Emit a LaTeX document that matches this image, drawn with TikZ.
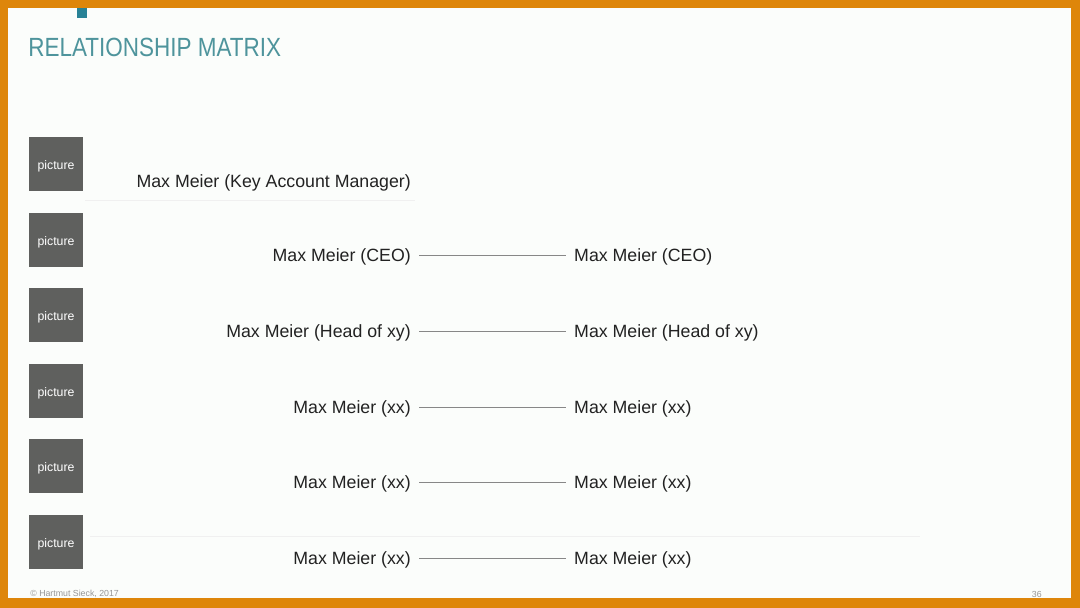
\documentclass[tikz,border=0pt]{standalone}
\usepackage{fontspec}
\setmainfont{Liberation Sans}
\usetikzlibrary{positioning}
\definecolor{frameorange}{RGB}{222,134,10}
\definecolor{paper}{RGB}{251,253,251}
\definecolor{titleteal}{RGB}{78,148,156}
\definecolor{markteal}{RGB}{40,130,150}
\definecolor{photogray}{RGB}{95,96,94}
\definecolor{namegray}{RGB}{34,34,34}
\definecolor{linegray}{RGB}{135,135,135}
\definecolor{footgray}{RGB}{150,150,150}

\begin{document}
\begin{tikzpicture}[
    x=0.02cm, y=-0.02cm,
    photo/.style={fill=photogray, minimum width=1.1cm, minimum height=1.08cm, inner sep=0pt,
                  text=white, font=\fontsize{7}{8}\selectfont, text height=6.5pt, text depth=0pt},
    person/.style={font=\fontsize{10.1}{12}\selectfont, text=namegray, inner sep=4.5pt},
    link/.style={draw=linegray, line width=0.5pt},
    faint/.style={draw=black!6, line width=0.5pt},
    foot/.style={font=\fontsize{5}{6}\selectfont, text=footgray, inner sep=0pt}
]

% Rahmen und Hintergrund
\fill[frameorange] (0,0) rectangle (1080,608);
\fill[paper] (8,8) rectangle (1071,598);
\fill[markteal] (77,8) rectangle (87,18);

% Titel
\node[anchor=west, inner sep=0pt, text=titleteal, font=\fontsize{12.8}{14}\selectfont]
    (title) at (28,47) {\scalebox{1}[1.17]{RELATIONSHIP MATRIX}};

% Bilder
\foreach \i/\y in {1/164,2/240,3/315,4/391,5/466,6/542} {
    \node[photo] (pic\i) at (56,\y) {picture};
}

% erste Zeile ohne Partner
\node[person, anchor=east] (left1) at (419,183) {Max Meier (Key Account Manager)};
\draw[faint] (85,200) -- (415,200);

% Zeilen mit Verbindung
\foreach \i/\y/\lab in {2/257/Max Meier (CEO), 3/333/Max Meier (Head of xy),
                        4/409/Max Meier (xx), 5/484/Max Meier (xx), 6/560/Max Meier (xx)} {
    \node[person, anchor=east] (left\i) at (419,\y) {\lab};
    \node[person, right=2.94cm of left\i] (right\i) {\lab};
    \draw[link] ([yshift=1.1pt]left\i.east) -- ([yshift=1.1pt]right\i.west);
}
\draw[faint] (90,536) -- (920,536);

% Fusszeile
\node[foot, anchor=west] (copy) at (30,594) {© Hartmut Sieck, 2017};
\node[foot, anchor=east] (page) at (1042,594) {36};

\end{tikzpicture}
\end{document}
